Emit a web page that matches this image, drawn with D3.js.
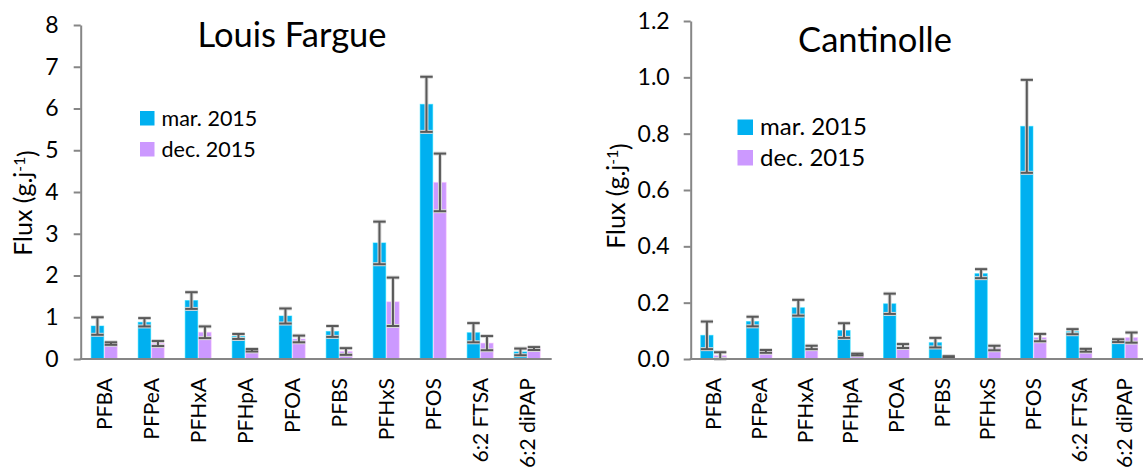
<!DOCTYPE html>
<html>
<head>
<meta charset="utf-8">
<script src="https://cdn.jsdelivr.net/npm/d3@7"></script>
<style>
  html, body { margin: 0; padding: 0; background: #ffffff; }
  svg { display: block; }
  text { font-family: Lato, "Open Sans", sans-serif; fill: #000; }
</style>
</head>
<body>
<svg id="chart" width="1143" height="473"></svg>
<script>
// ---------- data ----------
const categories = ["PFBA", "PFPeA", "PFHxA", "PFHpA", "PFOA", "PFBS", "PFHxS", "PFOS", "6:2 FTSA", "6:2 diPAP"];
const seriesNames = ["mar. 2015", "dec. 2015"];

// Louis Fargue
const lfMar    = [0.79, 0.88, 1.40, 0.54, 1.03, 0.66, 2.78, 6.10, 0.63, 0.17];
const lfMarErr = [0.21, 0.10, 0.20, 0.06, 0.18, 0.13, 0.51, 0.66, 0.23, 0.08];
const lfDec    = [0.37, 0.37, 0.64, 0.21, 0.48, 0.18, 1.37, 4.23, 0.38, 0.25];
const lfDecErr = [0.03, 0.06, 0.14, 0.03, 0.08, 0.08, 0.58, 0.69, 0.17, 0.035];
const lfTicks  = [0, 1, 2, 3, 4, 5, 6, 7, 8];

// Cantinolle
const caMar    = [0.084, 0.133, 0.182, 0.101, 0.196, 0.058, 0.303, 0.826, 0.097, 0.065];
const caMarErr = [0.049, 0.017, 0.028, 0.026, 0.036, 0.017, 0.016, 0.165, 0.009, 0.005];
const caDec    = [0.012, 0.027, 0.041, 0.016, 0.046, 0.007, 0.039, 0.076, 0.031, 0.076];
const caDecErr = [0.012, 0.005, 0.006, 0.003, 0.007, 0.003, 0.008, 0.013, 0.005, 0.018];
const caTicks  = [0, 0.2, 0.4, 0.6, 0.8, 1.0, 1.2];

const colors = ["#00B0F0", "#CC99FF"];

const svg = d3.select("#chart");

function drawChart(cfg) {
  const g = svg.append("g");
  const x = d3.scaleBand().domain(categories).range([cfg.x0, cfg.x1]).paddingInner(0).paddingOuter(0);
  const y = d3.scaleLinear().domain([0, cfg.yMax]).range([cfg.yBottom, cfg.yTop]);
  const bw = cfg.barW;
  const xs = d3.scaleBand().domain(seriesNames).range([-bw - 0.5, bw + 0.5]).paddingInner(1 / (bw + 1));

  const series = [
    { name: seriesNames[0], vals: cfg.mar, errs: cfg.marErr, color: colors[0] },
    { name: seriesNames[1], vals: cfg.dec, errs: cfg.decErr, color: colors[1] }
  ];

  // bars
  series.forEach(s => {
    g.selectAll(null)
      .data(categories.map((c, i) => ({ c, v: s.vals[i], e: s.errs[i] })))
      .enter().append("rect")
      .attr("x", d => x(d.c) + x.bandwidth() / 2 + xs(s.name))
      .attr("y", d => y(d.v))
      .attr("width", xs.bandwidth())
      .attr("height", d => y(0) - y(d.v))
      .attr("fill", s.color)
      .attr("stroke", d3.color(s.color).brighter(0.6))
      .attr("stroke-opacity", 0.5)
      .attr("stroke-width", 1);
  });

  // error bars
  series.forEach(s => {
    const data = categories.map((c, i) => ({ c, v: s.vals[i], e: s.errs[i] }));
    const cx = d => x(d.c) + x.bandwidth() / 2 + xs(s.name) + xs.bandwidth() / 2;
    const half = xs.bandwidth() / 2;
    const eg = g.append("g");
    [{ stroke: "#d9d9d9", w: 4 }, { stroke: "#595959", w: 2 }].forEach(st => {
      const sel = eg.selectAll(null).data(data).enter().append("g")
        .attr("stroke", st.stroke).attr("stroke-width", st.w).attr("fill", "none");
      sel.append("line").attr("x1", cx).attr("x2", cx)
        .attr("y1", d => y(d.v + d.e)).attr("y2", d => y(Math.max(0, d.v - d.e)));
      sel.append("line").attr("x1", d => cx(d) - half).attr("x2", d => cx(d) + half)
        .attr("y1", d => y(d.v + d.e)).attr("y2", d => y(d.v + d.e));
      sel.append("line").attr("x1", d => cx(d) - half).attr("x2", d => cx(d) + half)
        .attr("y1", d => y(Math.max(0, d.v - d.e))).attr("y2", d => y(Math.max(0, d.v - d.e)));
    });
  });

  // y axis
  const yAxis = d3.axisLeft(y).tickValues(cfg.ticks).tickFormat(d3.format(cfg.fmt))
    .tickSizeInner(7).tickSizeOuter(0).tickPadding(cfg.tickPad);
  const ya = g.append("g").attr("transform", `translate(${cfg.x0},0)`).call(yAxis);
  ya.select(".domain").attr("stroke", "#868686").attr("stroke-width", 2);
  ya.selectAll(".tick line").attr("stroke", "#868686").attr("stroke-width", 2);
  ya.selectAll(".tick text").attr("font-size", cfg.tickFont).attr("font-family", "Lato").attr("fill", "#000");

  // x axis
  const xAxis = d3.axisBottom(x).tickSize(0).tickPadding(0);
  const xa = g.append("g").attr("transform", `translate(0,${cfg.yBottom})`).call(xAxis);
  xa.select(".domain").attr("stroke", "#868686").attr("stroke-width", 2)
    .attr("d", `M${cfg.x0 - 1},0H${cfg.xAxisEnd}`);
  xa.selectAll(".tick text")
    .attr("font-size", cfg.labelFont).attr("font-family", "Lato").attr("fill", "#000")
    .attr("text-anchor", "end")
    .attr("transform", `translate(0,${cfg.labelTop}) rotate(-90)`)
    .attr("x", 0).attr("y", 0).attr("dy", "0.36em");

  // y-axis title
  const yt = g.append("text")
    .attr("transform", `translate(${cfg.ytX},${cfg.ytY}) rotate(-90)`)
    .attr("text-anchor", "middle").attr("font-size", cfg.ytFont);
  yt.append("tspan").text("Flux (g.j");
  yt.append("tspan").attr("dy", "-0.45em").attr("font-size", cfg.ytFont * 0.62).text("-1");
  yt.append("tspan").attr("dy", "0.45em").text(")");

  // title
  g.append("text").attr("x", cfg.titleX).attr("y", cfg.titleY)
    .attr("text-anchor", "middle").attr("font-size", cfg.titleFont).text(cfg.title);

  // legend
  series.forEach((s, i) => {
    g.append("rect").attr("x", cfg.legX).attr("y", cfg.legY + i * cfg.legStep)
      .attr("width", cfg.legSq).attr("height", cfg.legSq).attr("fill", s.color);
    g.append("text").attr("x", cfg.legX + cfg.legSq + 7).attr("y", cfg.legY + i * cfg.legStep + cfg.legSq)
      .attr("font-size", cfg.legFont).text(s.name);
  });
}

drawChart({
  title: "Louis Fargue", mar: lfMar, marErr: lfMarErr, dec: lfDec, decErr: lfDecErr,
  ticks: lfTicks, fmt: "d", yMax: 8,
  x0: 80.7, x1: 550.7, xAxisEnd: 551.7, yTop: 25, yBottom: 359, barW: 12.5,
  tickPad: 15, tickFont: 23, labelFont: 21, labelTop: 19,
  ytX: 32, ytY: 203, ytFont: 25,
  titleX: 292, titleY: 47, titleFont: 34.5,
  legX: 140, legY: 111, legStep: 31, legSq: 14.5, legFont: 21.5
});

drawChart({
  title: "Cantinolle", mar: caMar, marErr: caMarErr, dec: caDec, decErr: caDecErr,
  ticks: caTicks, fmt: ".1f", yMax: 1.2,
  x0: 690.7, x1: 1147.7, xAxisEnd: 1143, yTop: 21, yBottom: 359, barW: 12.3,
  tickPad: 14, tickFont: 23, labelFont: 21, labelTop: 19,
  ytX: 625, ytY: 196, ytFont: 25,
  titleX: 875, titleY: 52, titleFont: 34.5,
  legX: 737.5, legY: 119.5, legStep: 30.5, legSq: 15.5, legFont: 24
});
</script>
</body>
</html>
